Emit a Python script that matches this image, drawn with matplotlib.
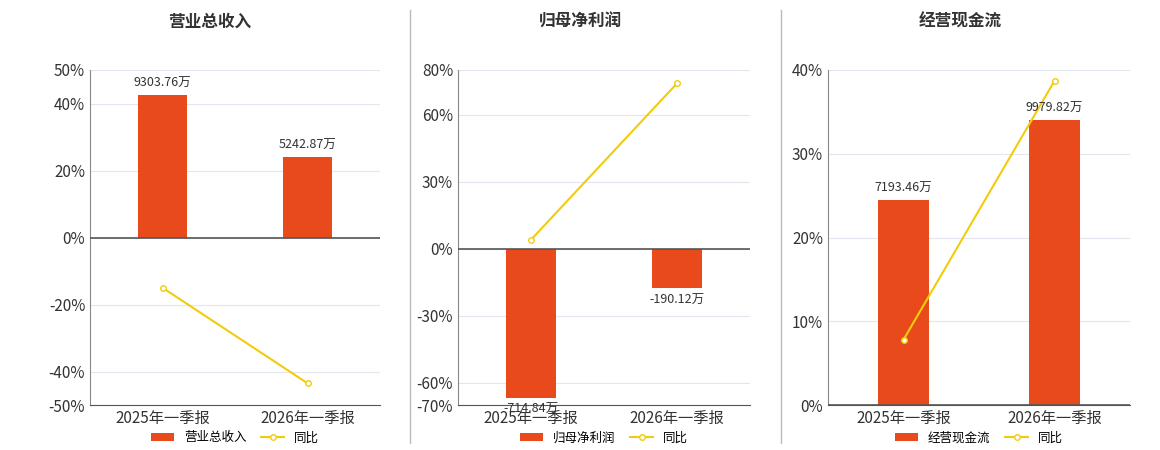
import matplotlib
matplotlib.use("Agg")
import matplotlib.pyplot as plt

plt.rcParams['font.family'] = ['Noto Sans CJK SC', 'DejaVu Sans']

categories = ["2025年一季报", "2026年一季报"]
titles = ["营业总收入", "归母净利润", "经营现金流"]
amounts = [[9303.76, 5242.87], [-714.84, -190.12], [7193.46, 9979.82]]
yoy = [[-15.0, -43.5], [4.0, 74.0], [7.8, 38.7]]
pct_ticks = [[-50, -40, -20, 0, 20, 40, 50], [-70, -60, -30, 0, 30, 60, 80], [0, 10, 20, 30, 40]]
# percent-per-amount scale of the hidden bar axis
bar_scale = [42.5 / 9303.76, 67.0 / 714.84, 34.0 / 9979.82]

bar_color = "#E84A1B"
line_color = "#F2CC0C"

fig = plt.figure(figsize=(11.6, 4.5), dpi=100)
W, H = 1160, 450
boxes = [(90, 380), (458, 750), (828, 1130)]
centers = [210, 580, 960]

for i in range(3):
    x0, x1 = boxes[i]
    ax = fig.add_axes([x0 / W, 1 - 405 / H, (x1 - x0) / W, 335 / H])
    lo, hi = pct_ticks[i][0], pct_ticks[i][-1]
    ax.set_ylim(lo, hi)
    ax.set_xlim(-0.5, 1.5)
    ax.set_yticks(pct_ticks[i])
    ax.set_yticklabels([f"{t}%" for t in pct_ticks[i]], fontsize=11, color="#333333")
    ax.grid(axis="y", color="#e3e6ee", lw=0.8)
    ax.set_axisbelow(True)
    for s in ["top", "right"]:
        ax.spines[s].set_visible(False)
    ax.spines["left"].set_color("#888888")
    ax.spines["bottom"].set_color("#555555")
    ax.tick_params(axis="y", length=0)
    ax.set_xticks([0, 1])
    ax.set_xticklabels(categories, fontsize=11, color="#333333")
    ax.tick_params(axis="x", length=0)
    ax.axhline(0, color="#555555", lw=1.2, zorder=3)

    vals = [a * bar_scale[i] for a in amounts[i]]
    bars = ax.bar([0, 1], vals, width=0.34, color=bar_color, zorder=2)
    for k, (v, a) in enumerate(zip(vals, amounts[i])):
        off = (hi - lo) * 0.015
        ax.text(k, v + off if v >= 0 else v - off, f"{a:.2f}万", ha="center",
                va="bottom" if v >= 0 else "top", fontsize=9, color="#333333", zorder=5)
    line, = ax.plot([0, 1], yoy[i], color=line_color, lw=1.5, marker="o", ms=4,
                    mfc="white", mec=line_color, zorder=4)

    fig.text(centers[i] / W, 1 - 22 / H, titles[i], ha="center", va="center",
             fontsize=12, fontweight="bold", color="#333333")
    ax.legend([bars, line], [titles[i], "同比"], loc="upper center",
              bbox_to_anchor=(0.5, -0.045), ncol=2, frameon=False,
              fontsize=9, handlelength=1.8, columnspacing=1.2)

for xs in [410, 781]:
    fig.add_artist(plt.Line2D([xs / W, xs / W], [1 - 10 / H, 1 - 443 / H], color="#bbbbbb", lw=1))

fig.savefig("out.png", dpi=100)
